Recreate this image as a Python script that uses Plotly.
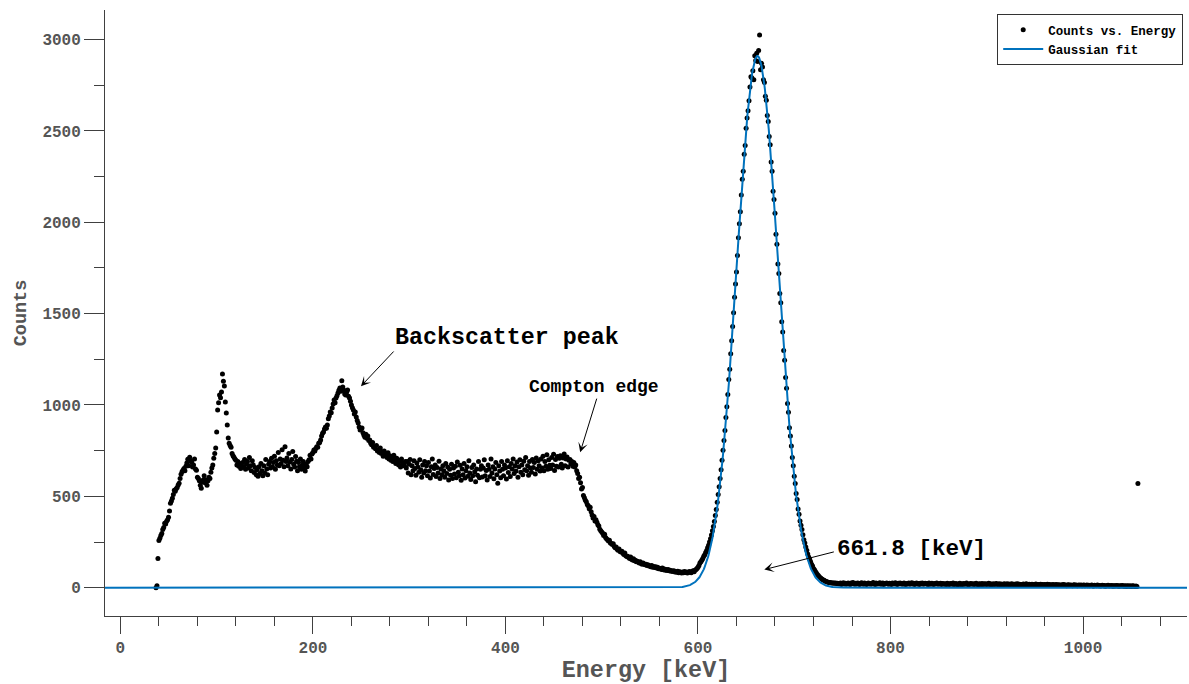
import numpy as np
import plotly.graph_objects as go

# Measured Cs-137 spectrum: one count value per 1 keV channel, starting at 37 keV
energy_first_kev = 37
counts = [
    0, 10, 160, 258, 270, 285, 297, 318, 330, 352,            # 37-46
    348, 363, 372, 385, 420, 462, 475, 489, 510, 533,         # 47-56
    528, 541, 549, 562, 571, 598, 621, 635, 643, 652,         # 57-66
    640, 665, 682, 703, 668, 714, 695, 687, 660, 672,         # 67-76
    705, 650, 643, 604, 598, 585, 560, 544, 578, 590,         # 77-86
    612, 575, 590, 560, 585, 604, 598, 632, 655, 672,         # 87-96
    709, 735, 764, 852, 973, 1012, 1055, 1040, 1071, 1170,    # 97-106
    1130, 1104, 1016, 956, 890, 819, 790, 778, 769, 735,      # 107-116
    722, 714, 705, 698, 672, 690, 665, 680, 652, 668,         # 117-126
    685, 660, 702, 648, 675, 690, 655, 712, 668, 640,         # 127-136
    695, 672, 630, 658, 618, 645, 610, 662, 625, 680,         # 137-146
    640, 612, 668, 628, 702, 650, 618, 675, 690, 655,         # 147-156
    708, 662, 685, 720, 648, 695, 672, 740, 668, 705,         # 157-166
    680, 755, 698, 662, 772, 690, 710, 668, 735, 688,         # 167-176
    650, 702, 745, 676, 660, 718, 692, 640, 685, 662,         # 177-186
    705, 648, 670, 690, 655, 638, 675, 662, 690, 700,         # 187-196
    725, 705, 732, 740, 753, 748, 762, 772, 769, 790,         # 197-206
    795, 808, 830, 845, 852, 868, 880, 872, 890, 925,         # 207-216
    940, 962, 958, 984, 1005, 1027, 1012, 1038, 1050, 1066,   # 217-226
    1080, 1093, 1075, 1132, 1098, 1082, 1060, 1055, 1070, 1082,  # 227-236
    1048, 1038, 1020, 1000, 985, 973, 950, 962, 934, 915,     # 237-246
    901, 880, 863, 870, 874, 848, 835, 824, 840, 818,         # 247-256
    830, 805, 808, 790, 782, 795, 769, 772, 760, 778,         # 257-266
    748, 753, 740, 765, 735, 742, 720, 748, 730, 725,         # 267-276
    712, 738, 705, 722, 698, 714, 690, 725, 702, 680,         # 277-286
    708, 687, 672, 695, 660, 705, 682, 668, 670, 690,         # 287-296
    655, 690, 628, 675, 702, 618, 668, 640, 695, 652,         # 297-306
    615, 682, 660, 632, 700, 645, 605, 672, 628, 690,         # 307-316
    640, 668, 612, 685, 638, 600, 662, 705, 620, 652,         # 317-326
    672, 608, 658, 628, 692, 598, 650, 618, 668, 640,         # 327-336
    605, 680, 625, 660, 590, 648, 615, 675, 598, 655,         # 337-346
    622, 665, 602, 688, 632, 612, 670, 588, 650, 618,         # 347-356
    680, 600, 640, 662, 610, 695, 628, 592, 658, 612,         # 357-366
    672, 635, 580, 650, 615, 690, 602, 648, 668, 606,         # 367-376
    655, 700, 612, 642, 590, 672, 648, 608, 705, 628,         # 377-386
    662, 596, 650, 685, 618, 572, 668, 638, 602, 690,         # 387-396
    648, 612, 672, 655, 595, 695, 630, 662, 608, 680,         # 397-406
    650, 705, 625, 668, 638, 688, 605, 662, 700, 632,         # 407-416
    672, 618, 692, 645, 712, 640, 668, 615, 690, 655,         # 417-426
    632, 702, 658, 685, 622, 710, 648, 695, 668, 638,         # 427-436
    705, 655, 720, 640, 690, 665, 728, 648, 700, 670,         # 437-446
    652, 712, 672, 730, 642, 702, 665, 718, 660, 708,         # 447-456
    722, 675, 655, 710, 732, 668, 705, 715, 660, 698,         # 457-466
    702, 678, 690, 665, 685, 660, 672, 640, 625, 598,         # 467-476
    605, 575, 540, 548, 505, 492, 478, 470, 455, 448,         # 477-486
    432, 440, 415, 398, 382, 390, 365, 372, 358, 345,         # 487-496
    338, 320, 312, 305, 298, 285, 292, 275, 268, 262,         # 497-506
    255, 260, 245, 242, 236, 240, 225, 218, 222, 210,         # 507-516
    205, 212, 198, 195, 200, 188, 182, 190, 175, 170,         # 517-526
    172, 165, 160, 168, 155, 152, 158, 148, 150, 142,         # 527-536
    145, 140, 135, 142, 132, 128, 135, 130, 125, 128,         # 537-546
    122, 126, 118, 120, 115, 122, 112, 116, 110, 114,         # 547-556
    108, 112, 104, 107, 105, 100, 108, 98, 102, 96,           # 557-566
    99, 94, 100, 92, 95, 90, 93, 88, 92, 86,                  # 567-576
    89, 85, 90, 82, 87, 84, 80, 86, 82, 88,                   # 577-586
    83, 86, 80, 84, 88, 85, 82, 90, 92, 87,                   # 587-596
    95, 100, 105, 112, 122, 135, 142, 150, 160, 172,          # 597-606
    180, 192, 203, 218, 232, 250, 268, 288, 312, 335,         # 607-616
    362, 395, 428, 468, 510, 552, 598, 645, 698, 752,         # 617-626
    805, 860, 932, 990, 1058, 1140, 1195, 1280, 1352, 1430,   # 627-636
    1505, 1590, 1662, 1728, 1818, 1915, 1992, 2058, 2150, 2235,  # 637-646
    2280, 2372, 2420, 2515, 2571, 2610, 2665, 2740, 2797, 2790,  # 647-656
    2830, 2780, 2912, 2885, 2925, 2880, 2940, 3025, 2835, 2870,  # 657-666
    2850, 2780, 2765, 2690, 2668, 2585, 2552, 2470, 2425, 2330,  # 667-676
    2280, 2170, 2125, 2050, 1935, 1880, 1772, 1720, 1610, 1560,  # 677-686
    1455, 1400, 1298, 1245, 1150, 1092, 1008, 960, 875, 830,  # 687-696
    775, 712, 668, 610, 570, 515, 482, 430, 402, 365,         # 697-706
    342, 318, 290, 262, 245, 222, 205, 185, 168, 155,         # 707-716
    142, 128, 118, 105, 98, 88, 80, 72, 66, 60,               # 717-726
    55, 50, 46, 42, 40, 36, 34, 32, 30, 29,                   # 727-736
    28, 27, 26, 25, 26, 24, 25, 23, 24, 22,                   # 737-746
    21, 25, 18, 23, 27, 20, 24, 19, 22, 26,                   # 747-756
    23, 18, 25, 21, 28, 22, 19, 24, 20, 26,                   # 757-766
    22, 17, 24, 27, 21, 19, 25, 23, 18, 22,                   # 767-776
    26, 20, 23, 19, 24, 28, 21, 18, 25, 22,                   # 777-786
    20, 24, 27, 19, 22, 25, 18, 23, 21, 26,                   # 787-796
    22, 19, 24, 21, 17, 25, 23, 20, 27, 22,                   # 797-806
    18, 24, 21, 25, 20, 23, 19, 26, 22, 18,                   # 807-816
    23, 21, 25, 19, 22, 27, 20, 24, 18, 22,                   # 817-826
    25, 20, 23, 18, 24, 21, 26, 19, 22, 24,                   # 827-836
    20, 23, 17, 25, 21, 19, 24, 22, 18, 23,                   # 837-846
    21, 25, 19, 22, 20, 24, 18, 23, 21, 19,                   # 847-856
    22, 18, 24, 20, 17, 23, 21, 19, 25, 18,                   # 857-866
    20, 23, 19, 16, 22, 24, 18, 21, 17, 23,                   # 867-876
    19, 22, 25, 18, 20, 17, 23, 21, 19, 22,                   # 877-886
    18, 21, 24, 19, 16, 22, 20, 18, 23, 17,                   # 887-896
    21, 19, 22, 17, 20, 24, 18, 21, 16, 19,                   # 897-906
    22, 18, 20, 23, 17, 19, 21, 16, 20, 18,                   # 907-916
    15, 21, 19, 17, 22, 18, 20, 16, 19, 21,                   # 917-926
    17, 19, 15, 20, 18, 22, 16, 19, 17, 14,                   # 927-936
    18, 20, 16, 17, 21, 15, 18, 19, 16, 17,                   # 937-946
    19, 15, 18, 16, 20, 17, 14, 18, 16, 19,                   # 947-956
    15, 17, 13, 18, 16, 14, 19, 15, 17, 13,                   # 957-966
    16, 14, 18, 12, 15, 17, 13, 16, 14, 15,                   # 967-976
    12, 16, 14, 17, 13, 15, 11, 14, 16, 12,                   # 977-986
    15, 13, 11, 14, 16, 12, 14, 10, 13, 15,                   # 987-996
    12, 14, 11, 13, 15, 10, 12, 14, 11, 13,                   # 997-1006
    10, 12, 14, 11, 9, 13, 12, 10, 14, 11,                    # 1007-1016
    12, 9, 11, 13, 10, 12, 8, 11, 10, 13,                     # 1017-1026
    9, 11, 10, 12, 8, 10, 11, 9, 12, 10,                      # 1027-1036
    8, 11, 9, 10, 12, 8, 9, 11, 7, 10,                        # 1037-1046
    9, 8, 10, 7, 9, 11, 8, 6, 9, 7,                           # 1047-1056
    570,                                                      # 1057 (overflow channel)
]
energy = np.arange(energy_first_kev, energy_first_kev + len(counts))

# Gaussian fit of the photopeak
fit_amplitude = 2910.0
fit_mean_kev = 661.8
fit_sigma_kev = 21.5
x_range = [-16, 1108]
y_range = [-155, 3162]

fit_x = np.linspace(x_range[0], x_range[1], 2249)
fit_y = fit_amplitude * np.exp(-((fit_x - fit_mean_kev) ** 2) / (2 * fit_sigma_kev ** 2))

# Annotation texts and where they sit (keV, counts, font size)
labels = [
    ("Backscatter peak", 401.7, 1367, 23.3),
    ("Compton edge", 492.3, 1098, 18),
    ("661.8 [keV]", 821.7, 214, 22.6),
]
# Arrows: (tail keV, tail counts, head keV, head counts)
arrows = [
    (285.3, 1301, 249.9, 1103),
    (495.3, 1043, 477.6, 741),
    (742.7, 198, 668.9, 99),
]

MONO = "Courier New, Liberation Mono, monospace"
AXIS_GREY = "#404040"
TEXT_GREY = "#555555"

fig = go.Figure()
fig.add_trace(go.Scatter(
    x=energy, y=counts, mode="markers", name="Counts vs. Energy",
    marker=dict(color="black", size=5),
))
fig.add_trace(go.Scatter(
    x=fit_x, y=fit_y, mode="lines", name="Gaussian fit",
    line=dict(color="#0072BD", width=2),
))

annotations = []
for text, ax_, ay_, size in labels:
    annotations.append(dict(
        x=ax_, y=ay_, xref="x", yref="y", text=f"<b>{text}</b>", showarrow=False,
        font=dict(family=MONO, size=size, color="black"),
    ))
for tx, ty, hx, hy in arrows:
    annotations.append(dict(
        x=hx, y=hy, ax=tx, ay=ty, xref="x", yref="y", axref="x", ayref="y",
        text="", showarrow=True, arrowhead=3, arrowsize=1.6, arrowwidth=1,
        arrowcolor="black", standoff=0, startstandoff=0,
    ))

axis_common = dict(
    showline=True, linecolor=AXIS_GREY, linewidth=1, mirror=False,
    tickwidth=1, tickcolor=AXIS_GREY,
    showgrid=False, zeroline=False,
    tickfont=dict(family=MONO, size=16, color=TEXT_GREY, weight="bold"),
)

fig.update_layout(
    width=1189, height=684,
    margin=dict(l=105, r=2, t=10, b=68),
    paper_bgcolor="white", plot_bgcolor="white",
    showlegend=True,
    legend=dict(
        x=0.9965, y=0.993, xanchor="right", yanchor="top",
        bgcolor="white", bordercolor="#333333", borderwidth=1,
        font=dict(family=MONO, size=12.5, color="black", weight="bold"),
        tracegroupgap=0, itemwidth=40,
    ),
    annotations=annotations,
    xaxis=dict(
        range=x_range, dtick=200, tick0=0, ticks="outside", ticklen=17,
        minor=dict(dtick=40, tick0=0, ticks="outside", ticklen=9, tickcolor=AXIS_GREY),
        title=dict(text="<b>Energy [keV]</b>", standoff=4,
                   font=dict(family=MONO, size=23.4, color=TEXT_GREY)),
        **axis_common,
    ),
    yaxis=dict(
        range=y_range, dtick=500, tick0=0, ticks="outside", ticklen=20,
        minor=dict(dtick=250, tick0=0, ticks="outside", ticklen=10, tickcolor=AXIS_GREY),
        title=dict(text="<b>Counts</b>", standoff=10,
                   font=dict(family=MONO, size=18.5, color=TEXT_GREY)),
        **axis_common,
    ),
)

fig.write_html("out.html")
